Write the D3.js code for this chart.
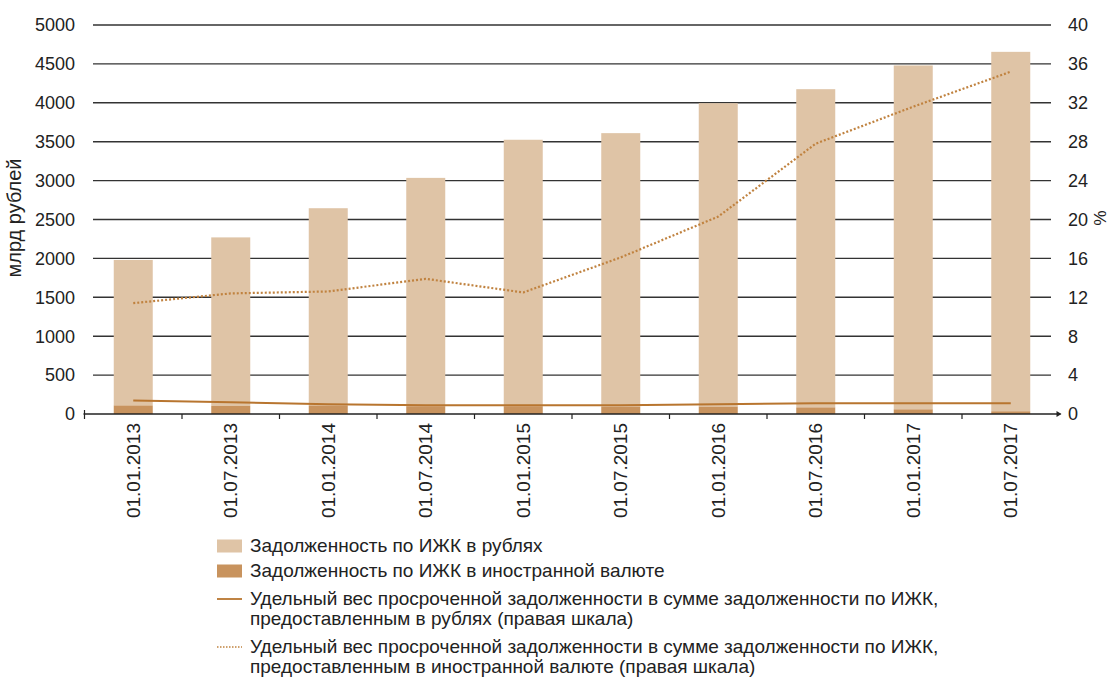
<!DOCTYPE html>
<html>
<head>
<meta charset="utf-8">
<script src="https://cdn.jsdelivr.net/npm/d3@7"></script>
<style>
  body { margin: 0; background: #fff; }
  svg { display: block; font-family: "Liberation Sans", Arial, sans-serif; }
</style>
</head>
<body>
<script>
/* Data
***********************************************************************/
var dates = ["01.01.2013", "01.07.2013", "01.01.2014", "01.07.2014", "01.01.2015",
	"01.07.2015", "01.01.2016", "01.07.2016", "01.01.2017", "01.07.2017"];
// total debt (rubles + foreign), bln rub
var debtTotal = [1980, 2270, 2645, 3035, 3525, 3610, 3995, 4175, 4480, 4655];
// debt in foreign currency, bln rub
var debtForeign = [110, 105, 110, 100, 100, 95, 95, 85, 60, 35];
// overdue share, %
var overdueRub = [1.4, 1.2, 1.0, 0.9, 0.9, 0.9, 1.0, 1.1, 1.1, 1.1];
var overdueForeign = [11.4, 12.4, 12.6, 13.9, 12.5, 16.1, 20.3, 27.8, 31.6, 35.2];

var leftTicks = [0, 500, 1000, 1500, 2000, 2500, 3000, 3500, 4000, 4500, 5000];
var rightTicks = [0, 4, 8, 12, 16, 20, 24, 28, 32, 36, 40];

var legendItems = [
	{type: "rect", color: "#dfc4a6", lines: ["Задолженность по ИЖК в рублях"]},
	{type: "rect", color: "#c8935e", lines: ["Задолженность по ИЖК в иностранной валюте"]},
	{type: "solid", color: "#b8752f", lines: ["Удельный вес просроченной задолженности в сумме задолженности по ИЖК,", "предоставленным в рублях (правая шкала)"]},
	{type: "dot", color: "#c0823f", lines: ["Удельный вес просроченной задолженности в сумме задолженности по ИЖК,", "предоставленным в иностранной валюте (правая шкала)"]}
];

/* Setup
***********************************************************************/
var svgW = 1112;
var svgH = 678;
var plotL = 84.5, plotR = 1059.5, plotT = 25, plotB = 414;

var svg = d3.select("body").append("svg")
	.attr("width", svgW)
	.attr("height", svgH);

var xScale = d3.scaleBand()
	.domain(dates)
	.range([plotL, plotR])
	.paddingInner(0.6)
	.paddingOuter(0.3);

var yLeft = d3.scaleLinear().domain([0, 5000]).range([plotB, plotT]);
var yRight = d3.scaleLinear().domain([0, 40]).range([plotB, plotT]);

var fontsize = 18;
var ink = "#222";

/* Gridlines
***********************************************************************/
svg.append("g").selectAll("line")
	.data(leftTicks.slice(1))
	.enter().append("line")
	.attr("x1", 93).attr("x2", 1051)
	.attr("y1", function(d) { return yLeft(d); })
	.attr("y2", function(d) { return yLeft(d); })
	.attr("stroke", "#333")
	.attr("stroke-width", 1.4);

/* Bars
***********************************************************************/
var barGroup = svg.append("g");
dates.forEach(function(d, i) {
	barGroup.append("rect")
		.attr("x", xScale(d))
		.attr("width", xScale.bandwidth())
		.attr("y", yLeft(debtTotal[i]))
		.attr("height", yLeft(debtForeign[i]) - yLeft(debtTotal[i]))
		.attr("fill", "#dfc4a6");
	barGroup.append("rect")
		.attr("x", xScale(d))
		.attr("width", xScale.bandwidth())
		.attr("y", yLeft(debtForeign[i]))
		.attr("height", yLeft(0) - yLeft(debtForeign[i]))
		.attr("fill", "#c8935e");
});

/* Lines
***********************************************************************/
var cx = function(d) { return xScale(d) + xScale.bandwidth() / 2; };

var lineGen = d3.line()
	.x(function(d, i) { return cx(dates[i]); })
	.y(function(d) { return yRight(d); });

svg.append("path")
	.attr("d", lineGen(overdueRub))
	.attr("fill", "none")
	.attr("stroke", "#b8752f")
	.attr("stroke-width", 2);

svg.append("path")
	.attr("d", lineGen(overdueForeign))
	.attr("fill", "none")
	.attr("stroke", "#c0823f")
	.attr("stroke-width", 2.2)
	.attr("stroke-dasharray", "2,2");

/* Axes
***********************************************************************/
// x axis baseline with arrow
svg.append("line")
	.attr("x1", plotL - 1).attr("x2", plotR + 1)
	.attr("y1", plotB).attr("y2", plotB)
	.attr("stroke", ink).attr("stroke-width", 1.4);
svg.append("path")
	.attr("d", "M" + (plotR + 2) + "," + plotB + "l-5,-3v6z")
	.attr("fill", ink);

// ticks on the band boundaries
svg.append("g").selectAll("line")
	.data(d3.range(dates.length))
	.enter().append("line")
	.attr("x1", function(i) { return plotL + i * xScale.step(); })
	.attr("x2", function(i) { return plotL + i * xScale.step(); })
	.attr("y1", function(i) { return i === 0 ? plotB - 4 : plotB; })
	.attr("y2", plotB + 5)
	.attr("stroke", ink).attr("stroke-width", 1.2);

// x labels
svg.append("g").selectAll("text")
	.data(dates)
	.enter().append("text")
	.text(function(d) { return d; })
	.attr("transform", function(d) { return "translate(" + (cx(d) + 6.5) + "," + (plotB + 9) + ") rotate(-90)"; })
	.attr("text-anchor", "end")
	.attr("font-size", 19)
	.attr("fill", ink);

// left labels
svg.append("g").selectAll("text")
	.data(leftTicks)
	.enter().append("text")
	.text(function(d) { return d; })
	.attr("x", 75)
	.attr("y", function(d) { return yLeft(d); })
	.attr("dy", "0.35em")
	.attr("text-anchor", "end")
	.attr("font-size", fontsize)
	.attr("fill", ink);

// right labels
svg.append("g").selectAll("text")
	.data(rightTicks)
	.enter().append("text")
	.text(function(d) { return d; })
	.attr("x", 1068)
	.attr("y", function(d) { return yRight(d); })
	.attr("dy", "0.35em")
	.attr("text-anchor", "start")
	.attr("font-size", fontsize)
	.attr("fill", ink);

// axis titles
svg.append("text")
	.text("млрд рублей")
	.attr("transform", "translate(21,218) rotate(-90)")
	.attr("text-anchor", "middle")
	.attr("font-size", 20)
	.attr("fill", ink);

svg.append("text")
	.text("%")
	.attr("transform", "translate(1094,218) rotate(90)")
	.attr("text-anchor", "middle")
	.attr("font-size", 17)
	.attr("fill", ink);

/* Legend
***********************************************************************/
var legendRows = [546, 571, 599, 647];
var legend = svg.append("g");
legendItems.forEach(function(item, i) {
	var y = legendRows[i];
	if (item.type === "rect") {
		legend.append("rect")
			.attr("x", 217).attr("y", y - 6.5)
			.attr("width", 25).attr("height", 13)
			.attr("fill", item.color);
	} else {
		legend.append("line")
			.attr("x1", 217).attr("x2", 242)
			.attr("y1", y).attr("y2", y)
			.attr("stroke", item.color)
			.attr("stroke-width", item.type === "dot" ? 1.6 : 1.8)
			.attr("stroke-dasharray", item.type === "dot" ? "1.5,1.5" : null);
	}
	item.lines.forEach(function(line, j) {
		legend.append("text")
			.text(line)
			.attr("x", 250)
			.attr("y", y + j * 19.5)
			.attr("dy", "0.32em")
			.attr("font-size", 19)
			.attr("fill", ink);
	});
});
</script>
</body>
</html>
